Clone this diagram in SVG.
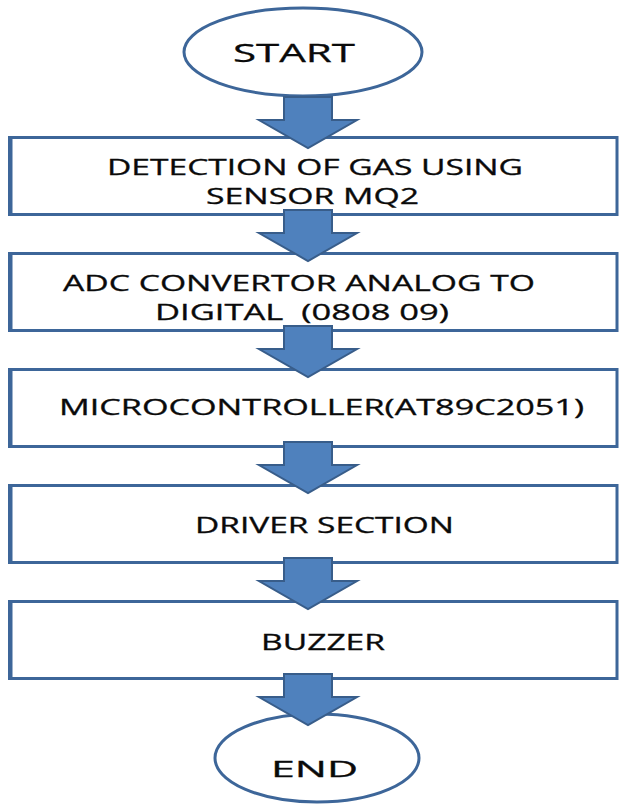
<svg xmlns="http://www.w3.org/2000/svg" width="619" height="804" viewBox="0 0 619 804">
  <style>
    .term { fill: #ffffff; stroke: #3d6699; stroke-width: 3; }
    .box { fill: #ffffff; stroke: #3d6699; stroke-width: 3; }
    .edge { fill: #3d6699; }
    .lbl { font-family: "Open Sans", "Liberation Sans", sans-serif; font-size: 21px; fill: #0a0a0a; stroke: #0a0a0a; stroke-width: 0.3; }
    .big { font-size: 26px; }
    .arrow { fill: #4f81bd; stroke: #385d8a; stroke-width: 2; stroke-linejoin: miter; }
  </style>
  <defs>
    <!-- block arrow pointing down, origin at shaft top centre, 28px tall head -->
    <path id="down" d="M -24 0 H 24 V 23 H 49 L 0 51 L -49 23 H -24 Z"/>
  </defs>

  <rect width="619" height="804" fill="#ffffff"/>

  <g id="start">
    <ellipse class="term" cx="303" cy="52" rx="119" ry="44"/>
    <text class="lbl big" x="233" y="62" textLength="122" lengthAdjust="spacingAndGlyphs">START</text>
  </g>

  <g id="detection">
    <rect class="box" x="11" y="137.5" width="606" height="77"/>
    <rect class="edge" x="8" y="136" width="3" height="80"/>
    <text class="lbl" x="107" y="175" textLength="416" lengthAdjust="spacingAndGlyphs">DETECTION OF GAS USING</text>
    <text class="lbl" x="206" y="204" textLength="213" lengthAdjust="spacingAndGlyphs">SENSOR MQ2</text>
  </g>

  <g id="adc">
    <rect class="box" x="11" y="253.5" width="606" height="77"/>
    <rect class="edge" x="8" y="252" width="3" height="80"/>
    <text class="lbl" x="63" y="291" textLength="472" lengthAdjust="spacingAndGlyphs">ADC CONVERTOR ANALOG TO</text>
    <text class="lbl" x="155" y="320" textLength="294" lengthAdjust="spacingAndGlyphs" xml:space="preserve">DIGITAL  (0808 09)</text>
  </g>

  <g id="microcontroller">
    <rect class="box" x="11" y="369.5" width="606" height="77"/>
    <rect class="edge" x="8" y="368" width="3" height="80"/>
    <text class="lbl" x="59" y="415" textLength="525" lengthAdjust="spacingAndGlyphs">MICROCONTROLLER(AT89C2051)</text>
  </g>

  <g id="driver">
    <rect class="box" x="11" y="485.5" width="606" height="77"/>
    <rect class="edge" x="8" y="484" width="3" height="80"/>
    <text class="lbl" x="195" y="533" textLength="259" lengthAdjust="spacingAndGlyphs">DRIVER SECTION</text>
  </g>

  <g id="buzzer">
    <rect class="box" x="11" y="601.5" width="606" height="77"/>
    <rect class="edge" x="8" y="600" width="3" height="80"/>
    <text class="lbl" x="261" y="650" textLength="124" lengthAdjust="spacingAndGlyphs">BUZZER</text>
  </g>

  <g id="end">
    <ellipse class="term" cx="317" cy="758" rx="102" ry="44"/>
    <text class="lbl" x="271" y="777" font-size="24" textLength="87" lengthAdjust="spacingAndGlyphs">END</text>
  </g>

  <g id="connectors">
    <use href="#down" class="arrow" x="308" y="97"/>
    <use href="#down" class="arrow" x="308" y="210"/>
    <use href="#down" class="arrow" x="308" y="326"/>
    <use href="#down" class="arrow" x="308" y="442"/>
    <use href="#down" class="arrow" x="308" y="558"/>
    <use href="#down" class="arrow" x="308" y="674"/>
  </g>
</svg>
